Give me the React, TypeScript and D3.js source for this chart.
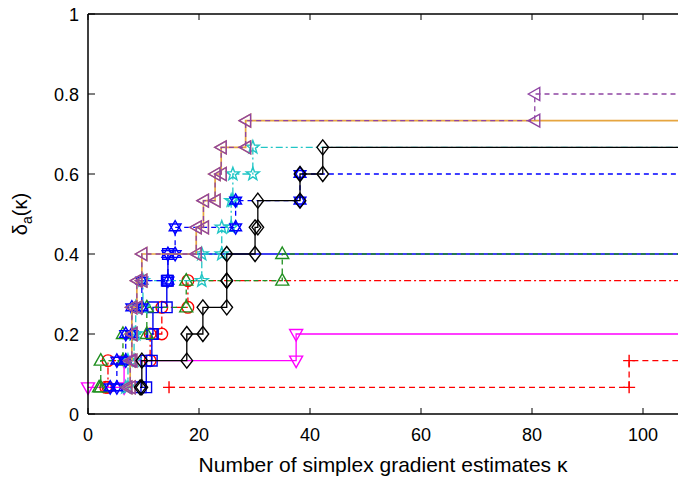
import React, { useEffect, useRef } from 'react';
import * as d3 from 'd3';

const W = 678;
const H = 478;
const margin = { left: 88, right: 0, top: 14, bottom: 64 };

// x value at which each solver reaches k/15 solved problems (k = 1, 2, ...)
const redPlusX = [14.6, 97.5];
const redCircleX = [3.2, 3.6, 11.2, 13.3, 18.0];
const greenX = [2.0, 2.3, 6.3, 10.6, 17.7, 35.0];
const magentaX = [0, 6.5, 37.5];
const blueSquareX = [9.5, 10.5, 11.5, 11.7, 14.2, 14.4];
const cyanX = [6.8, 7.2, 8.3, 8.6, 9.9, 20.5, 24.1, 25.8, 26.1, 29.7];
const blueStarX = [4.0, 5.2, 6.8, 7.9, 9.7, 14.4, 15.7, 26.6, 38.2];
const orangeX = [7.0, 7.6, 7.9, 7.9, 8.8, 9.7, 19.5, 20.8, 22.9, 24.0, 28.4];
const purpleX = [7.0, 7.6, 7.9, 7.9, 8.8, 9.7, 19.5, 20.8, 22.9, 24.0, 28.4, 80.5];
const blackX = [9.4, 9.7, 17.8, 20.7, 25.0, 25.0, 30.1, 30.6, 38.2, 42.3];

const nProblems = 15;
const xTicks = [0, 20, 40, 60, 80, 100];
const yTicks = [0, 0.2, 0.4, 0.6, 0.8, 1];

// marker outlines
const star5 = () => {
  const pts = d3.range(10).map((i) => {
    const r = i % 2 === 0 ? 6.8 : 2.8;
    const a = -Math.PI / 2 + (i * Math.PI) / 5;
    return [r * Math.cos(a), r * Math.sin(a)];
  });
  return 'M' + pts.map((p) => p.join(',')).join('L') + 'Z';
};
const markerPaths: Record<string, string> = {
  plus: 'M-6,0H6M0,-6V6',
  circle: 'M5.8,0A5.8,5.8 0 1,1 -5.8,0A5.8,5.8 0 1,1 5.8,0Z',
  triUp: 'M0,-7L6.5,4.5L-6.5,4.5Z',
  triDown: 'M0,7L6.5,-4.5L-6.5,-4.5Z',
  triLeft: 'M-6.5,0L5,-6.5L5,6.5Z',
  diamond: 'M0,-7.5L5.8,0L0,7.5L-5.8,0Z',
  square: 'M-5.3,-5.3H5.3V5.3H-5.3Z',
  star: star5(),
  hexagram: 'M0,-6.8L5.9,3.4L-5.9,3.4ZM0,6.8L5.9,-3.4L-5.9,-3.4Z',
};

const series = [
  { xs: redPlusX, color: '#ff0000', dash: '6,4', marker: 'plus', width: 1.3 },
  { xs: redCircleX, color: '#ff0000', dash: '7,3,2,3', marker: 'circle', width: 1.3 },
  { xs: magentaX, color: '#ff00ff', dash: null, marker: 'triDown', width: 1.3 },
  { xs: blueSquareX, color: '#0000ee', dash: null, marker: 'square', width: 1.4 },
  { xs: greenX, color: '#1f8f1f', dash: '5,4', marker: 'triUp', width: 1.3 },
  { xs: cyanX, color: '#22c6c6', dash: '7,3,2,3', marker: 'star', width: 1.3 },
  { xs: blueStarX, color: '#0000ff', dash: '5,4', marker: 'hexagram', width: 1.3 },
  { xs: orangeX, color: '#e6a540', dash: null, marker: 'triLeft', width: 1.7 },
  { xs: purpleX, color: '#8f44a3', dash: '5,4', marker: 'triLeft', width: 1.3 },
  { xs: blackX, color: '#000000', dash: null, marker: 'diamond', width: 1.3 },
];

const font = '"Liberation Sans", Arial, Helvetica, sans-serif';

const App = () => {
  const ref = useRef<SVGSVGElement>(null);

  useEffect(() => {
    const svg = d3.select(ref.current);
    svg.selectAll('*').remove();

    const x = d3.scaleLinear().domain([0, 100]).range([margin.left, 643]);
    const xMax = x.invert(W - margin.right);
    const y = d3.scaleLinear().domain([0, 1]).range([H - margin.bottom, margin.top]);

    const plot = svg.append('g');

    const line = d3
      .line<[number, number]>()
      .x((d) => x(d[0]))
      .y((d) => y(d[1]))
      .curve(d3.curveStepAfter);

    series.forEach((s) => {
      const pts: [number, number][] = s.xs.map((v, i) => [v, (i + 1) / nProblems]);
      const path = [...pts, [xMax, pts[pts.length - 1][1]] as [number, number]];
      plot
        .append('path')
        .attr('d', line(path))
        .attr('fill', 'none')
        .attr('stroke', s.color)
        .attr('stroke-width', s.width)
        .attr('stroke-dasharray', s.dash);

      // markers at both ends of every horizontal step
      const marks: [number, number][] = [];
      pts.forEach((p, i) => {
        marks.push(p);
        if (i + 1 < pts.length) marks.push([pts[i + 1][0], p[1]]);
      });
      plot
        .append('g')
        .selectAll('path')
        .data(marks)
        .enter()
        .append('path')
        .attr('d', markerPaths[s.marker])
        .attr('transform', (d) => `translate(${x(d[0])},${y(d[1])})`)
        .attr('fill', 'none')
        .attr('stroke', s.color)
        .attr('stroke-width', 1.4);
    });

    // frame
    const x0 = x(0);
    const y0 = y(0);
    const y1 = y(1);
    const frame = svg.append('g').attr('stroke', '#000').attr('stroke-width', 1.5);
    frame.append('line').attr('x1', x0).attr('x2', W).attr('y1', y0).attr('y2', y0);
    frame.append('line').attr('x1', x0).attr('x2', W).attr('y1', y1).attr('y2', y1);
    frame.append('line').attr('x1', x0).attr('x2', x0).attr('y1', y1).attr('y2', y0);

    xTicks.forEach((t) => {
      frame.append('line').attr('x1', x(t)).attr('x2', x(t)).attr('y1', y0).attr('y2', y0 - 6).attr('stroke-width', 1);
      frame.append('line').attr('x1', x(t)).attr('x2', x(t)).attr('y1', y1).attr('y2', y1 + 6).attr('stroke-width', 1);
    });
    yTicks.forEach((t) => {
      frame.append('line').attr('x1', x0).attr('x2', x0 + 7).attr('y1', y(t)).attr('y2', y(t)).attr('stroke-width', 1);
    });

    const labels = svg.append('g').attr('font-family', font).attr('font-size', 18).attr('fill', '#000');
    labels
      .selectAll('text.xt')
      .data(xTicks)
      .enter()
      .append('text')
      .attr('x', (d) => x(d))
      .attr('y', y0 + 27)
      .attr('text-anchor', 'middle')
      .text((d) => d3.format('d')(d));
    labels
      .selectAll('text.yt')
      .data(yTicks)
      .enter()
      .append('text')
      .attr('x', x0 - 9)
      .attr('y', (d) => y(d) + 6.5)
      .attr('text-anchor', 'end')
      .text((d) => (d === 0 || d === 1 ? String(d) : d3.format('.1f')(d)));

    labels
      .append('text')
      .attr('x', (margin.left + W) / 2)
      .attr('y', H - 6)
      .attr('text-anchor', 'middle')
      .attr('font-size', 21)
      .text('Number of simplex gradient estimates κ');

    const yl = labels
      .append('text')
      .attr('transform', `translate(27, ${(y0 + y1) / 2}) rotate(-90)`)
      .attr('text-anchor', 'middle')
      .attr('font-size', 20);
    yl.append('tspan').text('δ');
    yl.append('tspan').attr('font-size', 14).attr('dy', 5).text('a');
    yl.append('tspan').attr('dy', -5).text('(κ)');
  }, []);

  return (
    <svg ref={ref} width={W} height={H} style={{ position: 'absolute', left: 0, top: 0, background: '#fff' }} />
  );
};

export default App;
